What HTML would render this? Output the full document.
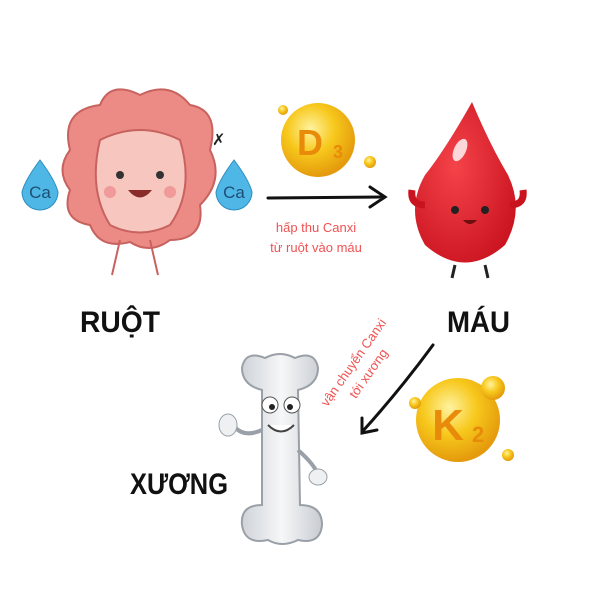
<!DOCTYPE html>
<html><head><meta charset="utf-8"><style>
html,body{margin:0;padding:0;background:#fff;width:600px;height:600px;overflow:hidden}
svg{display:block}
</style></head><body>
<svg width="600" height="600" viewBox="0 0 600 600" xmlns="http://www.w3.org/2000/svg">
<defs>
<radialGradient id="gold" cx="40%" cy="35%" r="65%"><stop offset="0" stop-color="#fff3a0"/><stop offset="0.5" stop-color="#f7c81c"/><stop offset="1" stop-color="#e49a0c"/></radialGradient>
<radialGradient id="drop" cx="40%" cy="40%" r="70%"><stop offset="0" stop-color="#f5434a"/><stop offset="1" stop-color="#c9131f"/></radialGradient>
<linearGradient id="bone" x1="0" x2="1"><stop offset="0" stop-color="#cfd3d8"/><stop offset="0.5" stop-color="#f6f7f8"/><stop offset="1" stop-color="#c8ccd2"/></linearGradient>
</defs>
<g>
<path d="M70 150 Q60 110 100 105 Q110 80 140 95 Q170 80 190 105 Q220 110 210 150 Q225 180 200 205 Q205 240 170 240 Q150 255 130 242 Q100 250 90 225 Q60 220 70 190 Q55 170 70 150Z" fill="#ec8a86" stroke="#c8625f" stroke-width="2"/>
<path d="M100 140 Q140 120 180 140 Q195 190 170 225 Q140 240 110 225 Q88 190 100 140Z" fill="#f7c7bf" stroke="#c8625f" stroke-width="2"/>
<circle cx="120" cy="175" r="4" fill="#333"/><circle cx="160" cy="175" r="4" fill="#333"/>
<path d="M128 190 Q140 205 152 190Z" fill="#8a2b2b"/>
<circle cx="110" cy="192" r="6" fill="#f09a9a"/><circle cx="170" cy="192" r="6" fill="#f09a9a"/>
<path d="M120 240 L112 275 M150 240 L158 275" stroke="#c8625f" stroke-width="2"/>
<text x="212" y="145" font-family="Liberation Sans" font-size="16" fill="#222">✗</text>
</g>
<g font-family="Liberation Sans,sans-serif" font-size="17" fill="#1d4f75" text-anchor="middle">
<path d="M40 160 Q55 180 58 192 A18 18 0 1 1 22 192 Q25 180 40 160Z" fill="#4fb7e6" stroke="#2d8cc0"/>
<text x="40" y="198">Ca</text>
<path d="M234 160 Q249 180 252 192 A18 18 0 1 1 216 192 Q219 180 234 160Z" fill="#4fb7e6" stroke="#2d8cc0"/>
<text x="234" y="198">Ca</text>
</g>
<circle cx="318" cy="140" r="37" fill="url(#gold)"/>
<circle cx="370" cy="162" r="6" fill="url(#gold)"/><circle cx="283" cy="110" r="5" fill="url(#gold)"/>
<text x="310" y="155" font-family="Liberation Sans" font-weight="bold" font-size="36" fill="#e88a0a" text-anchor="middle">D</text>
<text x="333" y="158" font-family="Liberation Sans" font-weight="bold" font-size="18" fill="#e88a0a">3</text>
<path d="M268 198 L384 197 M370 187 L385 197 L370 207" stroke="#111" stroke-width="3" fill="none" stroke-linecap="round"/>
<g font-family="Liberation Sans,sans-serif" font-size="13" fill="#f05252" text-anchor="middle">
<text x="316" y="232">hấp thu Canxi</text><text x="316" y="252">từ ruột vào máu</text>
</g>
<path d="M472 102 Q445 150 425 175 Q405 210 425 245 Q465 280 505 245 Q525 210 508 175 Q490 145 472 102Z" fill="url(#drop)"/>
<ellipse cx="460" cy="150" rx="6" ry="12" fill="#fff" opacity="0.8" transform="rotate(25 460 150)"/>
<circle cx="455" cy="210" r="4" fill="#222"/><circle cx="485" cy="210" r="4" fill="#222"/>
<path d="M463 220 Q470 228 477 220Z" fill="#6b0f0f"/>
<path d="M425 205 Q410 205 412 190 M510 205 Q525 205 523 190" stroke="#c9131f" stroke-width="7" fill="none"/>
<path d="M455 265 L452 278 M485 265 L488 278" stroke="#222" stroke-width="3"/>
<g font-family="Liberation Sans,sans-serif" font-weight="bold" font-size="30" fill="#111">
<text x="80" y="332" textLength="80" lengthAdjust="spacingAndGlyphs">RUỘT</text>
<text x="447" y="332" textLength="63" lengthAdjust="spacingAndGlyphs">MÁU</text>
<text x="130" y="494" textLength="98" lengthAdjust="spacingAndGlyphs">XƯƠNG</text>
</g>
<path d="M433 345 Q400 390 362 432 M362 418 L362 433 L377 430" stroke="#111" stroke-width="3" fill="none" stroke-linecap="round"/>
<g font-family="Liberation Sans,sans-serif" font-size="13" fill="#f05252" text-anchor="middle">
<text transform="translate(357 365) rotate(-55)">vận chuyển Canxi</text>
<text transform="translate(372 376) rotate(-55)">tới xương</text>
</g>
<circle cx="458" cy="420" r="42" fill="url(#gold)"/>
<circle cx="415" cy="403" r="6" fill="url(#gold)"/><circle cx="493" cy="388" r="12" fill="url(#gold)"/><circle cx="508" cy="455" r="6" fill="url(#gold)"/>
<text x="448" y="440" font-family="Liberation Sans" font-weight="bold" font-size="44" fill="#e88a0a" text-anchor="middle">K</text>
<text x="472" y="442" font-family="Liberation Sans" font-weight="bold" font-size="22" fill="#e88a0a">2</text>
<g stroke="#9aa0a8" stroke-width="2" fill="url(#bone)">
<path d="M262 390 L262 505 Q240 505 242 525 Q245 545 268 540 Q282 548 298 540 Q320 545 322 525 Q322 505 300 505 L298 390 Q318 385 318 368 Q315 350 295 358 Q280 350 265 358 Q245 350 242 368 Q242 385 262 390Z"/>
</g>
<circle cx="270" cy="405" r="8" fill="#fff" stroke="#555"/><circle cx="292" cy="405" r="8" fill="#fff" stroke="#555"/>
<circle cx="272" cy="407" r="3" fill="#222"/><circle cx="290" cy="407" r="3" fill="#222"/>
<path d="M268 425 Q281 438 294 425" stroke="#444" stroke-width="2" fill="#fff"/>
<path d="M262 430 Q240 440 230 420" stroke="#9aa0a8" stroke-width="4" fill="none"/>
<ellipse cx="228" cy="425" rx="9" ry="11" fill="#eef0f2" stroke="#9aa0a8"/>
<path d="M298 450 Q315 465 318 475" stroke="#9aa0a8" stroke-width="4" fill="none"/>
<ellipse cx="318" cy="477" rx="9" ry="8" fill="#eef0f2" stroke="#9aa0a8"/>
</svg>
</body></html>
